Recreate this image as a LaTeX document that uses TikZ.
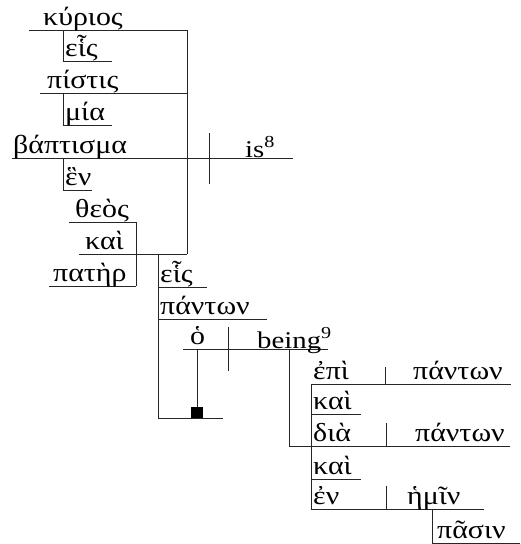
\documentclass[tikz,border=0pt]{standalone}
\usepackage{fontspec}
\setmainfont{Liberation Serif}
\newfontfamily\grk[FakeStretch=1.15]{Liberation Serif}
\newfontfamily\lat[FakeStretch=1.2]{Liberation Serif}
\begin{document}
\begin{tikzpicture}[x=1pt,y=-1pt,
  rule/.style={line width=0.9pt, draw=black!85},
  gw/.style={anchor=base west, inner sep=0pt, font=\fontsize{26}{26}\grk},
  lw/.style={anchor=base west, inner sep=0pt, font=\fontsize{24}{24}\lat}]
\useasboundingbox (0,0) rectangle (520,544);

% ---- line end points ----
\coordinate (kA) at (29,30);   \coordinate (kB) at (187,30);
\coordinate (vBot) at (187,254);
\coordinate (e1A) at (63,30);  \coordinate (e1C) at (63,61);  \coordinate (e1B) at (112,61);
\coordinate (pA) at (40,93);   \coordinate (pB) at (187,93);
\coordinate (mA) at (63,93);   \coordinate (mC) at (63,125);  \coordinate (mB) at (112,125);
\coordinate (bA) at (12,158);  \coordinate (bB) at (293,158);
\coordinate (dvT) at (209,133); \coordinate (dvB) at (209,184);
\coordinate (hA) at (63,158);  \coordinate (hC) at (63,190);  \coordinate (hB) at (92,190);
\coordinate (thA) at (69,222); \coordinate (thB) at (136,222);
\coordinate (kaA) at (79,254);
\coordinate (paA) at (49,286); \coordinate (paB) at (136,286);
\coordinate (gT) at (158,254); \coordinate (gC) at (158,418); \coordinate (gB) at (223,418);
\coordinate (e2A) at (158,287); \coordinate (e2B) at (207,287);
\coordinate (pnA) at (158,319); \coordinate (pnB) at (267,319);
\coordinate (oA) at (183,349); \coordinate (oB) at (328,349);
\coordinate (odT) at (228,327); \coordinate (odB) at (228,371);
\coordinate (oV) at (197,349); \coordinate (oW) at (197,410);
\coordinate (beV) at (289,349); \coordinate (beW) at (289,446);
\coordinate (epA) at (311,384); \coordinate (epB) at (511,384);
\coordinate (epdT) at (385,367); \coordinate (epdB) at (385,384);
\coordinate (cvB) at (311,509);
\coordinate (k2A) at (311,414); \coordinate (k2B) at (361,414);
\coordinate (diB) at (510,446);
\coordinate (didT) at (386,423); \coordinate (didB) at (386,446);
\coordinate (k3A) at (311,479); \coordinate (k3B) at (361,479);
\coordinate (enB) at (484,509);
\coordinate (endT) at (386,486); \coordinate (endB) at (386,509);
\coordinate (psT) at (432,509); \coordinate (psC) at (432,543); \coordinate (psB) at (520,543);

% ---- rules ----
\draw[rule] (kA) -- (kB) -- (vBot);
\draw[rule] (e1A) -- (e1C) -- (e1B);
\draw[rule] (pA) -- (pB);
\draw[rule] (mA) -- (mC) -- (mB);
\draw[rule] (bA) -- (bB);
\draw[rule] (dvT) -- (dvB);
\draw[rule] (hA) -- (hC) -- (hB);
\draw[rule] (thA) -- (thB) -- (paB);
\draw[rule] (kaA) -- (vBot);
\draw[rule] (paA) -- (paB);
\draw[rule] (gT) -- (gC) -- (gB);
\draw[rule] (e2A) -- (e2B);
\draw[rule] (pnA) -- (pnB);
\draw[rule] (oA) -- (oB);
\draw[rule] (odT) -- (odB);
\draw[rule] (oV) -- (oW);
\fill (191,407) rectangle (203,418);
\draw[rule] (beV) -- (beW);
\draw[rule] (epA) -- (epB);
\draw[rule] (epdT) -- (epdB);
\draw[rule] (epA) -- (cvB);
\draw[rule] (k2A) -- (k2B);
\draw[rule] (beW) -- (diB);
\draw[rule] (didT) -- (didB);
\draw[rule] (k3A) -- (k3B);
\draw[rule] (cvB) -- (enB);
\draw[rule] (endT) -- (endB);
\draw[rule] (psT) -- (psC) -- (psB);

% ---- words ----
\node[gw] (w1) at (43,25) {κύριος};
\node[gw] (w2) at (65,56) {εἷς};
\node[gw] (w3) at (47,88) {πίστις};
\node[gw] (w4) at (65,120) {μία};
\node[gw] (w5) at (13,153) {βάπτισμα};
\node[lw] (w6) at (245,157) {is\textsuperscript{8}};
\node[gw] (w7) at (65,185) {ἓν};
\node[gw] (w8) at (75,217) {θεὸς};
\node[gw] (w9) at (85,249) {καὶ};
\node[gw] (w10) at (53,281) {πατὴρ};
\node[gw] (w11) at (160,282) {εἷς};
\node[gw] (w12) at (160,314) {πάντων};
\node[gw] (w13) at (190,344) {ὁ};
\node[lw] (w14) at (257,348) {being\textsuperscript{9}};
\node[gw] (w15) at (313,379) {ἐπὶ};
\node[gw] (w16) at (413,379) {πάντων};
\node[gw] (w17) at (313,409) {καὶ};
\node[gw] (w18) at (313,441) {διὰ};
\node[gw] (w19) at (415,441) {πάντων};
\node[gw] (w20) at (313,474) {καὶ};
\node[gw] (w21) at (313,504) {ἐν};
\node[gw] (w22) at (407,504) {ἡμῖν};
\node[gw] (w23) at (437,538) {πᾶσιν};
\end{tikzpicture}
\end{document}
